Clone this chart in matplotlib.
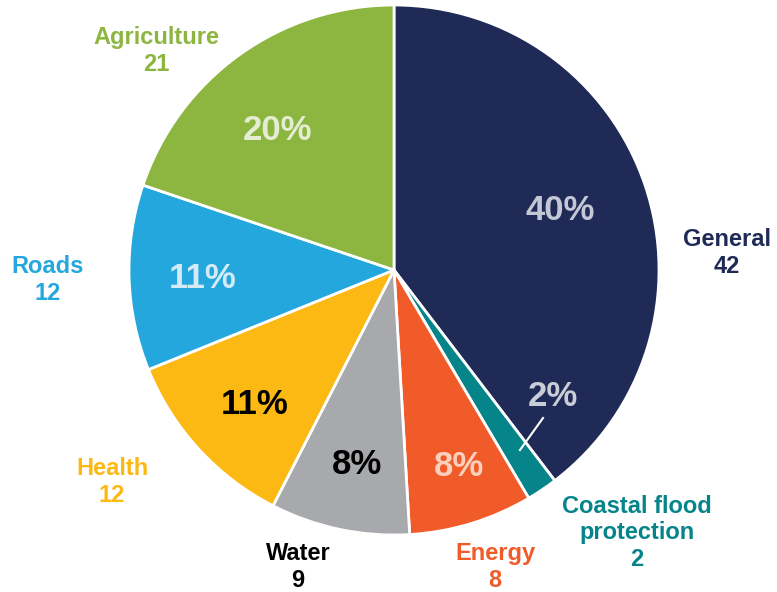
import matplotlib
matplotlib.use("Agg")
import matplotlib.pyplot as plt

categories = ["General", "Coastal flood\nprotection", "Energy", "Water", "Health", "Roads", "Agriculture"]
values = [42, 2, 8, 9, 12, 12, 21]

colors = ["#1f2a56", "#05848a", "#f15a29", "#a7a9ac", "#fcb813", "#24a7dc", "#8cb640"]
label_colors = ["#1f2a56", "#05848a", "#f15a29", "#000000", "#fcb813", "#24a7dc", "#8cb640"]
pct_colors = ["#c3c7d6", "#c9cdd8", "#fbd1bd", "#000000", "#000000", "#d4ebf7", "#e4edd2"]

W, H = 777, 592
# label and pct positions in pixel coordinates (from top-left)
label_pos = [(727, 253), (637, 533), (495, 567), (298, 567), (112, 482), (48, 280), (156, 51)]
pct_pos = [(560, 210), (553, 397), (459, 467), (357, 465), (255, 404), (203, 278), (277, 131)]

plt.rcParams['font.family'] = ['Liberation Sans', 'DejaVu Sans']
fig = plt.figure(figsize=(W / 100, H / 100), dpi=100)
ax = fig.add_axes([0, 0, 1, 1])

cx, cy, r = 394, H - 270, 265
ax.pie(values, colors=colors, startangle=90, counterclock=False,
       center=(cx, cy), radius=r, frame=True,
       wedgeprops=dict(edgecolor='white', linewidth=2))
ax.set_xlim(0, W)
ax.set_ylim(0, H)
ax.set_aspect('equal')
ax.axis('off')

total = sum(values)
for i, (cat, v) in enumerate(zip(categories, values)):
    lx, ly = label_pos[i]
    ax.text(lx, H - ly, f"{cat}\n{v}", ha='center', va='center', fontsize=17,
            fontweight='bold', color=label_colors[i], linespacing=1.2)
    px, py = pct_pos[i]
    ax.text(px, H - py, f"{round(100 * v / total)}%", ha='center', va='center',
            fontsize=25, fontweight='bold', color=pct_colors[i])

# leader line for small slice
ax.plot([520, 543], [H - 450, H - 418], color='white', lw=1.5)

fig.savefig("out.png", dpi=100)
